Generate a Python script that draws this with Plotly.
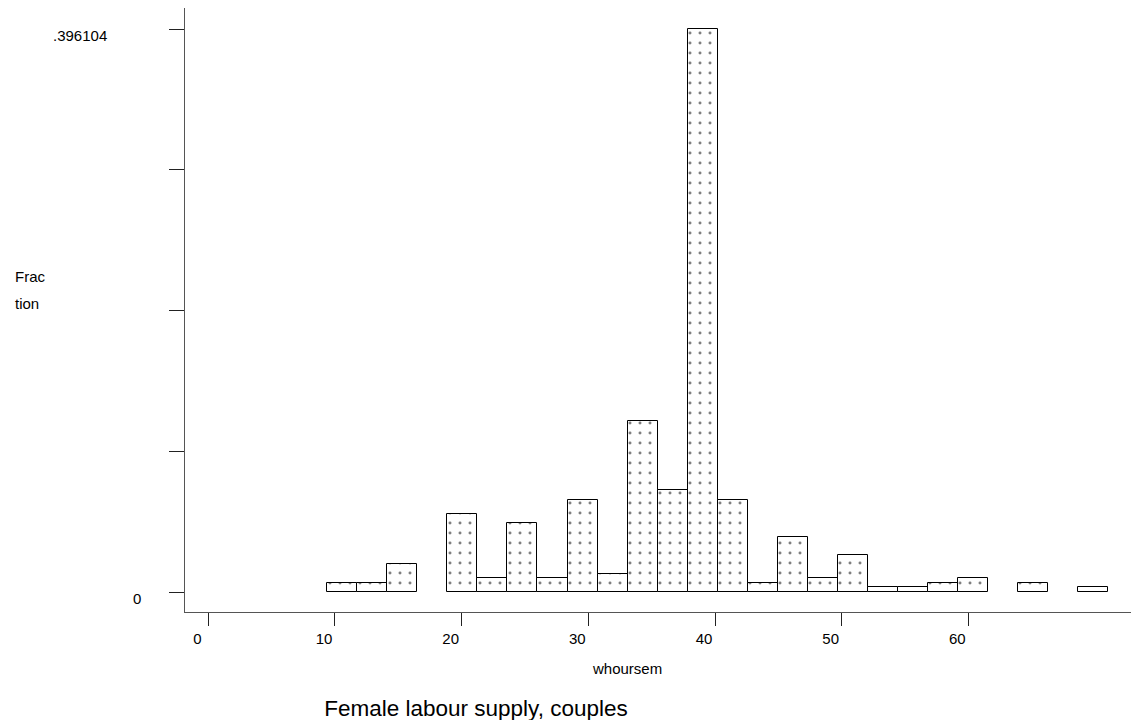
import plotly.graph_objects as go

# ---- data ----
bin_start = 9.39          # left edge of first bin (whoursem)
bin_width = 2.371         # width of each bin
fractions = [0.006494, 0.006494, 0.019481, None, 0.055195, 0.009740, 0.048701,
             0.009740, 0.064935, 0.012987, 0.120130, 0.071429, 0.396104, 0.064935,
             0.006494, 0.038961, 0.009740, 0.025974, 0.003247, 0.003247, 0.006494,
             0.009740, None, 0.006494, None, 0.003247]
x_ticks = [0, 10, 20, 30, 40, 50, 60]
y_ticks = [0, 0.099026, 0.198052, 0.297078, 0.396104]
y_labels = {0: "0", 0.396104: ".396104"}

centres = [bin_start + bin_width * (i + 0.5) for i in range(len(fractions))]

W, H = 1134, 720
ML, MR, MT, MB = 185, 3, 8, 108
FONT = "Liberation Sans, Arial, sans-serif"

def px_x(p):
    return (p - ML) / (W - ML - MR)

def px_y(p):
    return 1 - (p - MT) / (H - MT - MB)

fig = go.Figure()
fig.add_trace(go.Bar(
    x=centres, y=fractions, width=bin_width,
    marker=dict(color="white",
                line=dict(color="black", width=1),
                pattern=dict(shape=".", fgcolor="black", bgcolor="white",
                             size=10, solidity=0.07)),
    hoverinfo="x+y", showlegend=False,
))

annotations = []
for v, t in y_labels.items():
    annotations.append(dict(x=px_x(80 if t != "0" else 137), xref="paper", y=v, yref="y",
                            text=t, showarrow=False, xanchor="center", yanchor="middle",
                            yshift=-6, font=dict(family=FONT, size=15, color="black")))
annotations.append(dict(x=px_x(13), xref="paper", y=px_y(276), yref="paper", text="Frac",
                        showarrow=False, xanchor="left", yanchor="middle",
                        font=dict(family=FONT, size=15, color="black")))
annotations.append(dict(x=px_x(13), xref="paper", y=px_y(303), yref="paper", text="tion",
                        showarrow=False, xanchor="left", yanchor="middle",
                        font=dict(family=FONT, size=15, color="black")))
annotations.append(dict(x=px_x(627), xref="paper", y=px_y(668), yref="paper", text="whoursem",
                        showarrow=False, xanchor="center", yanchor="middle",
                        font=dict(family=FONT, size=15, color="black")))

fig.update_layout(
    width=W, height=H,
    margin=dict(l=ML, r=MR, t=MT, b=MB),
    paper_bgcolor="white", plot_bgcolor="white",
    bargap=0,
    font=dict(family=FONT, size=15, color="black"),
    title=dict(text="Female labour supply, couples", x=476 / W, xanchor="center",
               xref="container", y=1 - 708 / H, yanchor="middle", yref="container",
               font=dict(family=FONT, size=22.5, color="black")),
    annotations=annotations,
    xaxis=dict(range=[-1.839, 72.84], tickvals=x_ticks, ticktext=[str(v) for v in x_ticks],
               showgrid=False, zeroline=False, showline=True, linecolor="#555", linewidth=1,
               ticks="outside", ticklen=13, tickcolor="#222", tickwidth=1,
               ticklabelshift=-11, tickfont=dict(family=FONT, size=15, color="black")),
    yaxis=dict(range=[-0.01407, 0.41088], tickvals=y_ticks, showticklabels=False,
               showgrid=False, zeroline=False, showline=True, linecolor="#555", linewidth=1,
               ticks="outside", ticklen=15, tickcolor="#222", tickwidth=1),
)

fig.write_html("out.html")
